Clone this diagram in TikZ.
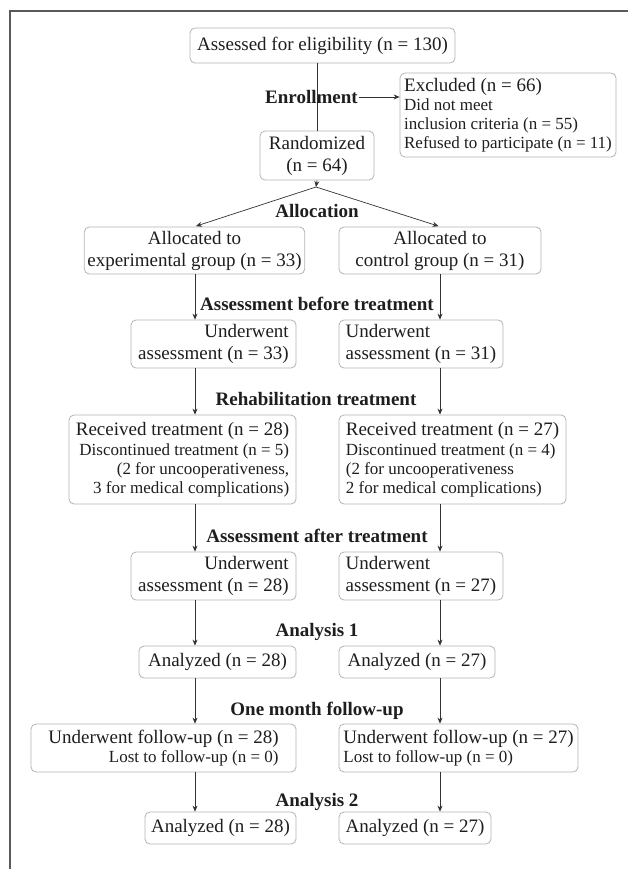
\documentclass[tikz,border=0pt]{standalone}
\usepackage{fontspec}
\setmainfont{Liberation Serif}
\usetikzlibrary{arrows.meta}
\definecolor{boxgray}{HTML}{B4B4B4}
\definecolor{arrgray}{HTML}{333333}
\definecolor{framegray}{HTML}{5A5A5A}
\definecolor{txt}{HTML}{1E1E1E}
\newcommand\mainsz{\fontsize{19}{22}\selectfont}
\newcommand\subsz{\fontsize{17}{19}\selectfont}
\begin{document}
\begin{tikzpicture}[x=1pt,y=-1pt,
  box/.style={draw=boxgray, line width=0.8pt, rounded corners=5pt, inner xsep=3pt, inner ysep=0pt, font=\mainsz, text=txt},
  lab/.style={font=\mainsz\bfseries, text=txt, inner sep=1pt},
  arr/.style={draw=arrgray, line width=0.7pt, -{Stealth[length=6pt,width=5pt]}},
  ln/.style={draw=arrgray, line width=0.7pt}]
\useasboundingbox (0,0) rectangle (628,869);
\fill[white] (0,0) rectangle (628,869);
% frame
\draw[framegray, line width=2pt] (10,869) -- (10,11) -- (628,11);

% boxes
\node[box, minimum width=265pt, minimum height=35pt, align=flush center] (top) at (322.5,45.5) {Assessed for eligibility (n = 130)};
\node[box, minimum width=216pt, minimum height=84pt, align=flush left] (excl) at (508,115) {Excluded (n = 66)\\[-3pt]\subsz Did not meet\\[-3pt]\subsz inclusion criteria (n = 55)\\[-3pt]\subsz Refused to participate (n = 11)};
\node[box, minimum width=114pt, minimum height=49pt, align=flush center] (rand) at (317,155.5) {Randomized\\(n = 64)};

\node[box, minimum width=203pt, minimum height=47pt, align=flush center] (allocL) at (194.5,250.5) {Allocated to\\experimental group (n = 33)};
\node[box, minimum width=202pt, minimum height=47pt, align=flush center] (allocR) at (440,250.5) {Allocated to\\control group (n = 31)};

\node[box, minimum width=165pt, minimum height=48pt, align=flush right] (uaL) at (213.5,344) {Underwent\\assessment (n = 33)};
\node[box, minimum width=164pt, minimum height=48pt, align=flush left] (uaR) at (421,344) {Underwent\\assessment (n = 31)};

\node[box, minimum width=227pt, minimum height=89pt, align=flush right] (rtL) at (182.5,459.5) {Received treatment (n = 28)\\[-2pt]\subsz Discontinued treatment (n = 5)\\[-3pt]\subsz (2 for uncooperativeness,\\[-3pt]\subsz 3 for medical complications)};
\node[box, minimum width=227pt, minimum height=89pt, align=flush left] (rtR) at (452.5,459.5) {Received treatment (n = 27)\\[-2pt]\subsz Discontinued treatment (n = 4)\\[-3pt]\subsz (2 for uncooperativeness\\[-3pt]\subsz 2 for medical complications)};

\node[box, minimum width=165pt, minimum height=48pt, align=flush right] (ubL) at (213.5,576) {Underwent\\assessment (n = 28)};
\node[box, minimum width=164pt, minimum height=48pt, align=flush left] (ubR) at (421,576) {Underwent\\assessment (n = 27)};

\node[box, minimum width=157pt, minimum height=32pt, align=flush center] (anL) at (217.5,662) {Analyzed (n = 28)};
\node[box, minimum width=156pt, minimum height=32pt, align=flush center] (anR) at (417,662) {Analyzed (n = 27)};

\node[box, minimum width=265pt, minimum height=48pt, align=flush right] (fuL) at (163.5,748) {Underwent follow-up (n = 28)\\[-3pt]\subsz Lost to follow-up (n = 0)};
\node[box, minimum width=239pt, minimum height=48pt, align=flush left] (fuR) at (458.5,748) {Underwent follow-up (n = 27)\\[-3pt]\subsz Lost to follow-up (n = 0)};

\node[box, minimum width=151pt, minimum height=32pt, align=flush center] (bnL) at (220.5,828) {Analyzed (n = 28)};
\node[box, minimum width=152pt, minimum height=32pt, align=flush center] (bnR) at (415,828) {Analyzed (n = 27)};

% column guides
\coordinate (cl) at (195,0);
\coordinate (cr) at (440,0);
\coordinate (split) at (316,187);

% connectors
\draw[ln] (rand.north |- top.south) -- (rand.north);
\node[lab] (enroll) at (311.5,97) {Enrollment};
\draw[arr] (enroll.east) -- (enroll.east -| excl.west);
\draw[arr] (rand.south) -- (split);
\draw[arr, shorten >=1.5pt] (split) -- (allocL.north);
\draw[arr, shorten >=1.5pt] (split) -- (allocR.north);
\node[lab] (lalloc) at (317,211) {Allocation};

\draw[arr] (allocL.south -| cl) -- (uaL.north -| cl);
\draw[arr] (allocR.south -| cr) -- (uaR.north -| cr);
\node[lab] (lbefore) at (317,304) {Assessment before treatment};

\draw[arr] (uaL.south -| cl) -- (rtL.north -| cl);
\draw[arr] (uaR.south -| cr) -- (rtR.north -| cr);
\node[lab] (lrehab) at (316,399) {Rehabilitation treatment};

\draw[arr] (rtL.south -| cl) -- (ubL.north -| cl);
\draw[arr] (rtR.south -| cr) -- (ubR.north -| cr);
\node[lab] (lafter) at (317,536) {Assessment after treatment};

\draw[arr] (ubL.south -| cl) -- (anL.north -| cl);
\draw[arr] (ubR.south -| cr) -- (anR.north -| cr);
\node[lab] (lan1) at (317,632) {Analysis 1};

\draw[arr] (anL.south -| cl) -- (fuL.north -| cl);
\draw[arr] (anR.south -| cr) -- (fuR.north -| cr);
\node[lab] (lfu) at (317,711) {One month follow-up};

\draw[arr] (fuL.south -| cl) -- (bnL.north -| cl);
\draw[arr] (fuR.south -| cr) -- (bnR.north -| cr);
\node[lab] (lan2) at (317,802) {Analysis 2};
\end{tikzpicture}
\end{document}
